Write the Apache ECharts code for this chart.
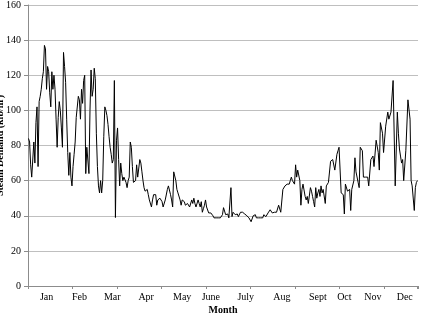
<!DOCTYPE html>
<html><head><meta charset="utf-8">
<script src="https://cdn.jsdelivr.net/npm/echarts@6/dist/echarts.min.js"></script>
<style>html,body{margin:0;padding:0;background:#fff}#c{width:421px;height:318px}</style>
</head><body><div id="c"></div>
<script>
// Month labels and the day index where each label sits
const monthNames = ['Jan','Feb','Mar','Apr','May','June','July','Aug','Sept','Oct','Nov','Dec'];
const monthLabelIndex = [17,48,79,111,145,172,205,239,273,298,325,355];
const yMin = 0, yMax = 160, yStep = 20;
const dayCount = 368;
const tickEvery = 42;

// Daily steam demand (klb/hr)
const segJanFeb = [
84,82,69,62,62,82,70,93,102,68,
105,108,112,118,122,137,135,112,125,122,
110,102,122,112,120,112,95,79,96,105,
100,90,79,133,125,116,95,76,63,76,
62,57,68,75,82,96,96,108,106,95,
112,104,117,120,64,79,79,64,100,123,
108,112,124,118];
const segFebApr = [
87,68,57,53,60,53,60,85,102,100,
97,92,85,79,75,70,72,117,39,83,
90,72,57,70,64,60,62,62,59,56,
60,62,82,79,68,59,60,60,69,62,
62,72,70,65,60,56,54,55,55,52,
49,49,45,49,52,52,52,46,49,49,
50,50,48,45];
const segAprJun = [
45,49,49,55,57,56,52,49,45,65,
65,60,55,53,52,49,46,49,50,48,
46,46,47,46,45,45,49,47,50,47,
45,45,49,47,45,48,42,44,46,49,
45,45,41.6,41.6,41.6,41.6,40,38.8,38.8,38.8,
38.8,38.8,38.8,38.8,38.8,40.6,44.6,44,40.6,40.6,
41,38.8,39,56];
const segJulAug = [
39.5,42,42,40.6,40.6,41,39.5,39.5,42,42,
42,42,41,41,40,40,38.8,38.8,36.6,36.6,
40,40.6,40.6,38.8,38.8,38.8,38.8,38.8,38.8,38.8,
40.6,40.6,39.5,39.5,41.6,41.6,43.4,43.4,41.6,42,
42,42,42,42,46,46,42,42,55,55,
57,57,58,59,58,60,62,60,59,58,
69,62,66,67];
const segSepOct = [
60,46,55,58,57,51,49,51,47,48,
56,54,51,48,45,56,50,53,55,51,
57,53,55,54,47,57,58,59,59,71,
71,72,72,66,66,75,77,79,79,53,
52,52,41,58,58,54,55,55,43,55,
55,60,73,65,65,59,56,79,79,77,
62,62,62,61];
const segNovDec = [
62,57,57,72,72,74,68,69,83,83,
76,66,93,93,87,76,76,91,91,99,
95,95,99,99,117,117,57,57,99,87,
78,74,70,72,60,60,77,77,106,106,
95,60,57,57,43,56,59,60];

const values = [].concat(segJanFeb, segFebApr, segAprJun, segJulAug, segSepOct, segNovDec);
const categories = new Array(dayCount).fill('');
monthLabelIndex.forEach((idx, k) => { categories[idx] = monthNames[k]; });

const font = 'Liberation Serif, Times New Roman, serif';
const chart = echarts.init(document.getElementById('c'), null, {renderer: 'canvas'});
chart.setOption({
  animation: false,
  backgroundColor: '#fff',
  grid: {left: 28, right: 3, top: 5, bottom: 32, containLabel: false, outerBoundsMode: 'none'},
  xAxis: {
    type: 'category',
    data: categories,
    boundaryGap: true,
    name: 'Month',
    nameLocation: 'middle',
    nameGap: 19,
    nameMoveOverlap: false,
    nameTextStyle: {fontFamily: font, fontSize: 10, fontWeight: 'bold', color: '#000'},
    axisLine: {lineStyle: {color: '#8c8c8c', width: 1}},
    axisTick: {show: true, interval: tickEvery - 1, length: 3, inside: false, lineStyle: {color: '#8c8c8c'}},
    axisLabel: {interval: 0, margin: 6, fontFamily: font, fontSize: 10, color: '#000'},
    splitLine: {show: false}
  },
  yAxis: {
    type: 'value',
    min: yMin, max: yMax, interval: yStep,
    name: 'Steam Demand (klb/hr)',
    nameLocation: 'middle',
    nameGap: 23,
    nameRotate: 90,
    nameMoveOverlap: false,
    nameTextStyle: {fontFamily: font, fontSize: 10, fontWeight: 'bold', color: '#000'},
    axisLine: {show: true, lineStyle: {color: '#8c8c8c', width: 1}},
    axisTick: {show: true, length: 4, lineStyle: {color: '#8c8c8c'}},
    axisLabel: {margin: 7, fontFamily: font, fontSize: 10, color: '#000'},
    splitLine: {show: true, lineStyle: {color: '#bfbfbf', width: 1}}
  },
  series: [{
    type: 'line',
    data: values,
    showSymbol: false,
    symbol: 'none',
    smooth: false,
    lineStyle: {color: '#000', width: 1},
    emphasis: {disabled: true}
  }]
});
</script></body></html>
